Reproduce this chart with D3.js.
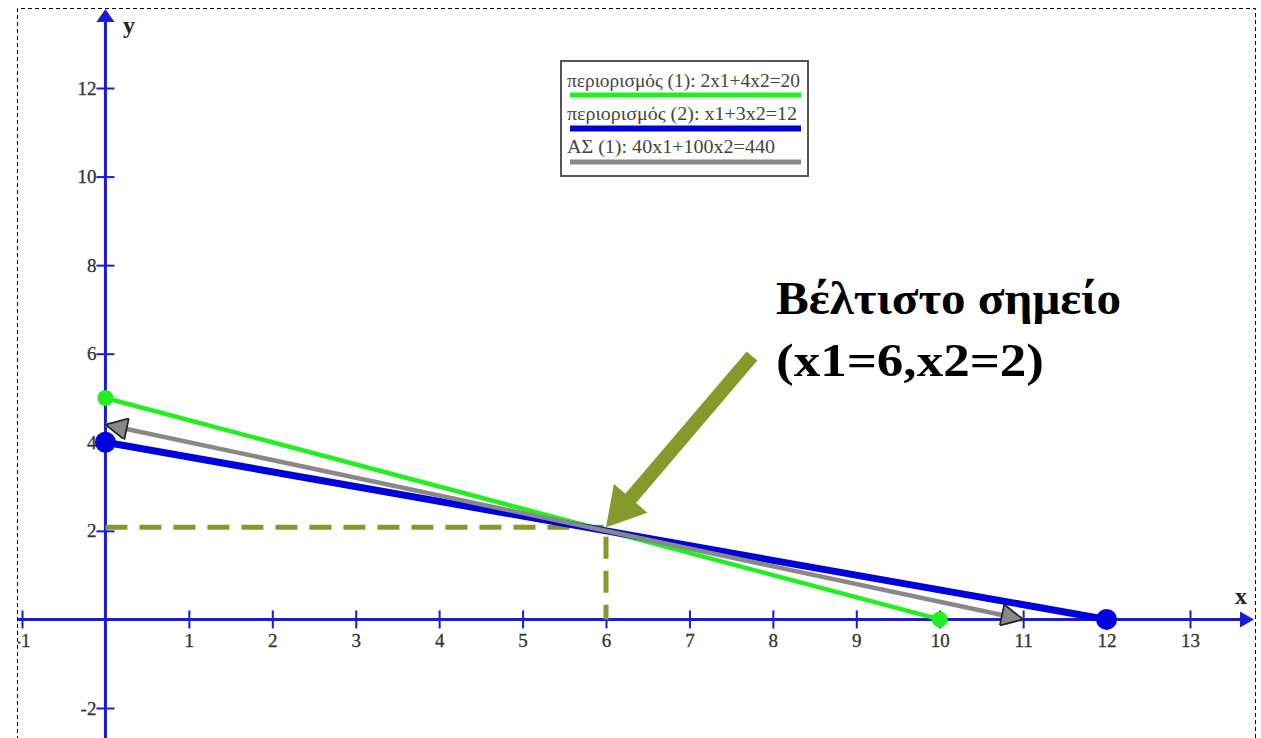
<!DOCTYPE html>
<html><head><meta charset="utf-8">
<script src="https://cdn.jsdelivr.net/npm/d3@7"></script>
<style>html,body{margin:0;padding:0;background:#fff;}svg{display:block;}</style>
</head><body>
<svg id="c" width="1261" height="738"></svg>
<script>
const xTicks = [-1,1,2,3,4,5,6,7,8,9,10,11,12,13];
const yTicks = [-2,2,4,6,8,10,12];
const constraint1 = [[0,5],[10,0]];      // 2x1+4x2=20
const constraint2 = [[0,4],[12,0]];      // x1+3x2=12
const objective   = [[0,4.4],[11,0]];    // 40x1+100x2=440
const optimum = [6,2.08];
const legendItems = [
  {label:"περιορισμός (1): 2x1+4x2=20", color:"#22ee22", w:5, len:233},
  {label:"περιορισμός (2): x1+3x2=12", color:"#0000dd", w:6, len:230},
  {label:"ΑΣ (1): 40x1+100x2=440", color:"#888888", w:5, len:208}
];
const titleLines = [{t:"Βέλτιστο σημείο", len:345},{t:"(x1=6,x2=2)", len:268}];

const svg = d3.select("#c");
const x = d3.scaleLinear().domain([-1,13]).range([22,1190]);
const y = d3.scaleLinear().domain([-2,12]).range([708,88]);
const AX = "#1a1adb", OLIVE = "#859a2a", SERIF = "'Liberation Serif','Times New Roman',serif";
const fmt = d => String(d);

const defs = svg.append("defs");
defs.append("clipPath").attr("id","clip").append("rect").attr("x",18).attr("y",9).attr("width",1236).attr("height",740);
const g = svg.append("g").attr("clip-path","url(#clip)");

// axes
g.append("line").attr("x1",17).attr("x2",1245).attr("y1",y(0)).attr("y2",y(0)).attr("stroke",AX).attr("stroke-width",3);
g.append("path").attr("d",`M1254,${y(0)} L1240,${y(0)-8} L1240,${y(0)+8}Z`).attr("fill",AX);
g.append("line").attr("x1",x(0)).attr("x2",x(0)).attr("y1",20).attr("y2",740).attr("stroke",AX).attr("stroke-width",3);
g.append("path").attr("d",`M${x(0)},9 L${x(0)-9},22 L${x(0)+9},22Z`).attr("fill",AX);

const xa = g.append("g").attr("transform",`translate(0,${y(0)})`).call(d3.axisBottom(x).tickValues(xTicks).tickFormat(fmt).tickSize(8).tickPadding(6));
xa.select(".domain").remove();
xa.selectAll(".tick line").attr("y1",-9).attr("y2",9).attr("stroke",AX).attr("stroke-width",2);
xa.selectAll(".tick text").attr("font-family",SERIF).attr("font-size",19).attr("fill","#333").attr("stroke","#333").attr("stroke-width",0.3).attr("y",28).attr("dy",0);

const ya = g.append("g").attr("transform",`translate(${x(0)},0)`).call(d3.axisLeft(y).tickValues(yTicks).tickFormat(fmt).tickSize(8).tickPadding(2));
ya.select(".domain").remove();
ya.selectAll(".tick line").attr("x1",-9).attr("x2",9).attr("stroke",AX).attr("stroke-width",2);
ya.selectAll(".tick text").attr("font-family",SERIF).attr("font-size",19).attr("fill","#333").attr("stroke","#333").attr("stroke-width",0.3).attr("x",-9);

// axis names
g.append("text").attr("x",1241).attr("y",604).attr("font-family",SERIF).attr("font-weight","bold").attr("font-size",24).attr("fill","#222").attr("text-anchor","middle").text("x");
g.append("text").attr("x",129).attr("y",33).attr("font-family",SERIF).attr("font-weight","bold").attr("font-size",24).attr("fill","#222").attr("text-anchor","middle").text("y");

// dashed olive guide lines
g.append("path").attr("d",`M${x(0)},${y(optimum[1])} H${x(optimum[0])} V${y(0)}`)
  .attr("fill","none").attr("stroke",OLIVE).attr("stroke-width",5).attr("stroke-dasharray","22,12");

const line = d3.line().x(d=>x(d[0])).y(d=>y(d[1]));
// constraint lines
g.append("path").datum(constraint1).attr("d",line).attr("stroke","#22ee22").attr("stroke-width",4.5).attr("fill","none");
g.append("path").datum(constraint2).attr("d",line).attr("stroke","#0000dd").attr("stroke-width",7).attr("fill","none");
g.selectAll(".d1").data(constraint1).join("circle").attr("cx",d=>x(d[0])).attr("cy",d=>y(d[1])).attr("r",8).attr("fill","#22ee22");
g.selectAll(".d2").data(constraint2).join("circle").attr("cx",d=>x(d[0])).attr("cy",d=>y(d[1])).attr("r",10.5).attr("fill","#0000dd");

// objective line with arrowheads
defs.append("marker").attr("id","ah").attr("viewBox","0 0 10 10").attr("refX",10).attr("refY",5)
  .attr("markerWidth",6).attr("markerHeight",4.8).attr("markerUnits","strokeWidth").attr("orient","auto-start-reverse")
  .append("path").attr("d","M0,0 L10,5 L0,10Z").attr("fill","#888").attr("stroke","#222").attr("stroke-width",0.8);
g.append("path").datum(objective).attr("d",line).attr("stroke","#888").attr("stroke-width",4.5).attr("fill","none")
  .attr("marker-start","url(#ah)").attr("marker-end","url(#ah)");

// big olive arrow to optimum
const ox = x(optimum[0]), oy = y(optimum[1]);
const sx = 752, sy = 356;
const ang = Math.atan2(oy-sy, ox-sx);
const hl = 38, hw = 22, sw = 7;
const ux = Math.cos(ang), uy = Math.sin(ang), px = -uy, py = ux;
const bx = ox-ux*hl, by = oy-uy*hl;
const pts = [[sx+px*sw,sy+py*sw],[bx+px*sw,by+py*sw],[bx+px*hw,by+py*hw],[ox,oy],[bx-px*hw,by-py*hw],[bx-px*sw,by-py*sw],[sx-px*sw,sy-py*sw]];
g.append("path").attr("d","M"+pts.map(p=>p.join(",")).join("L")+"Z").attr("fill",OLIVE);

// annotation text
g.selectAll(".ttl").data(titleLines).join("text").attr("x",776).attr("y",(d,i)=>314+i*62)
  .attr("font-family",SERIF).attr("font-weight","bold").attr("font-size",46).attr("fill","#000")
  .attr("textLength",d=>d.len).attr("lengthAdjust","spacingAndGlyphs").text(d=>d.t);

// legend
const lg = g.append("g");
lg.append("rect").attr("x",561).attr("y",61).attr("width",247).attr("height",115).attr("fill","#fff").attr("stroke","#555").attr("stroke-width",2);
const li = lg.selectAll(".li").data(legendItems).join("g").attr("transform",(d,i)=>`translate(0,${i*33})`);
li.append("text").attr("x",567).attr("y",87).attr("font-family",SERIF).attr("font-size",18).attr("fill","#444")
  .attr("textLength",d=>d.len).attr("lengthAdjust","spacingAndGlyphs").text(d=>d.label);
li.append("line").attr("x1",570).attr("x2",801).attr("y1",(d,i)=>95+i*0.5).attr("y2",(d,i)=>95+i*0.5).attr("stroke",d=>d.color).attr("stroke-width",d=>d.w);

// dashed frame
svg.append("path").attr("d","M17.5,740 V8.5 H1255.5 V740").attr("fill","none").attr("stroke","#000").attr("stroke-width",1).attr("stroke-dasharray","4,3");
</script>
</body></html>
